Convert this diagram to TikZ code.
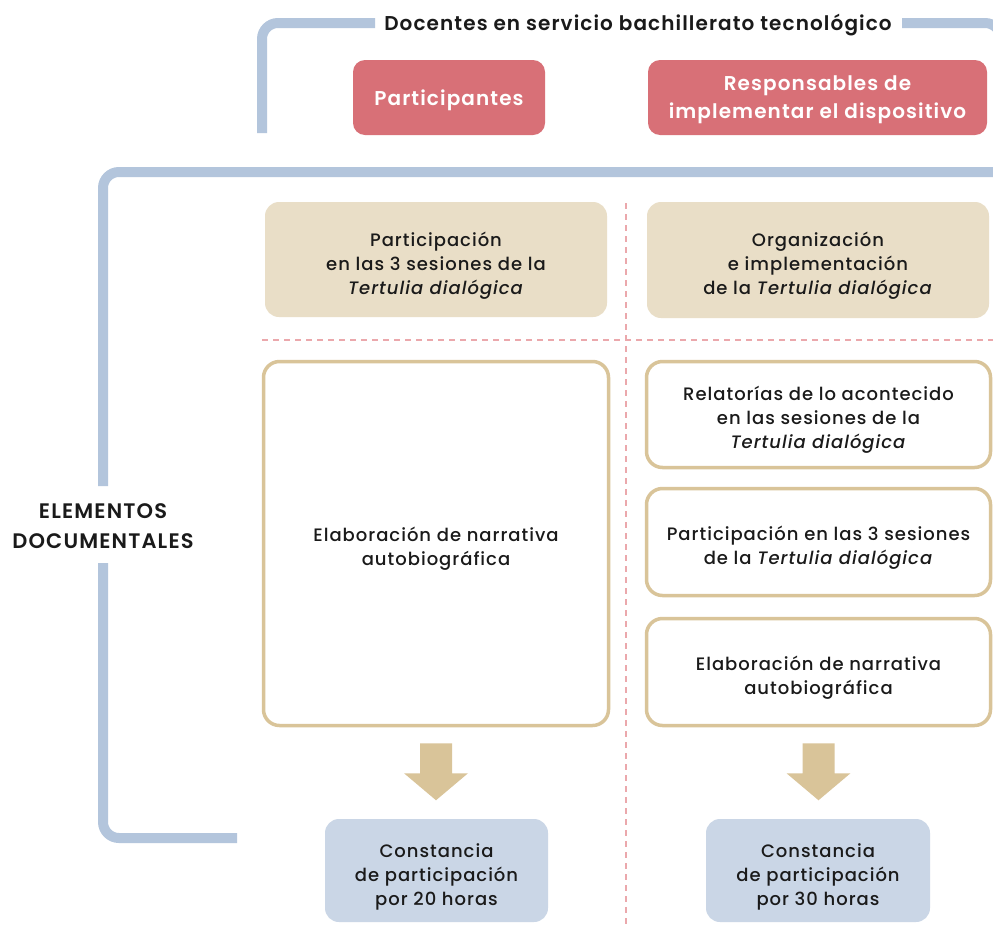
\documentclass[tikz,border=0pt]{standalone}
\usepackage{fontspec}
\setmainfont{Poppins}[LetterSpace=5.5, UprightFont={Poppins Medium}, ItalicFont={Poppins Medium Italic}, BoldFont={Poppins SemiBold}]
\usetikzlibrary{calc}
\definecolor{redc}{HTML}{D87077}
\definecolor{beigec}{HTML}{E9DEC7}
\definecolor{tanc}{HTML}{D9C499}
\definecolor{bluec}{HTML}{CAD6E6}
\definecolor{brkc}{HTML}{B3C5DC}
\definecolor{pinkc}{HTML}{EBA8AC}
\definecolor{txtc}{HTML}{1A1A1A}
\tikzset{
  brk/.style={draw=brkc, line width=10pt, rounded corners=16pt, line cap=butt},
  sep/.style={draw=pinkc, line width=1.5pt, dash pattern=on 6pt off 5pt},
  redbox/.style={fill=redc, rounded corners=12pt, inner sep=0pt},
  beigebox/.style={fill=beigec, rounded corners=14pt, inner sep=0pt},
  docbox/.style={draw=tanc, fill=white, line width=3.5pt, rounded corners=16pt, inner sep=0pt},
  certbox/.style={fill=bluec, rounded corners=14pt, inner sep=0pt},
  bodytxt/.style={text=txtc, align=center, inner sep=0pt, font=\fontsize{18}{24}\selectfont},
  redtxt/.style={text=white, align=center, inner sep=0pt, font=\fontsize{20}{28}\selectfont\bfseries},
  lbl/.style={text=txtc, align=center, inner sep=0pt, font=\fontsize{21}{30}\selectfont\bfseries},
  blockarrow/.style={fill=tanc},
}
\begin{document}
\begin{tikzpicture}[x=1pt,y=-1pt]
\useasboundingbox (0,0) rectangle (993,924);
\clip (0,0) rectangle (993,924);
\fill[white] (0,0) rectangle (993,924);

% brackets
\draw[brk] (262,133) -- (262,23) -- (375,23);
\draw[brk] (902,23) -- (1001,23) -- (1001,140);
\draw[brk] (1010,172) -- (103,172) -- (103,486);
\draw[brk] (103,563) -- (103,838) -- (237,838);

% separators
\draw[sep] (626,203) -- (626,924);
\draw[sep] (262,340) -- (993,340);

% title and side label
\node[lbl, font=\fontsize{20}{24}\selectfont\bfseries] (title) at (638,25.5) {Docentes en servicio bachillerato tecnológico};
\node[lbl] (elem) at (103,526) {ELEMENTOS\\DOCUMENTALES};

% header boxes
\node[redbox, minimum width=192pt, minimum height=75pt] (part) at (449,97.5) {};
\node[redtxt] (partt) at ([yshift=-2.5pt]part.center) {Participantes};
\node[redbox, minimum width=339pt, minimum height=75pt] (resp) at (817.5,97.5) {};
\node[redtxt] (respt) at ([yshift=-2.5pt]resp.center) {Responsables de\\implementar el dispositivo};

% beige boxes
\node[beigebox, minimum width=342pt, minimum height=115pt] (b1) at (436,259.5) {};
\node[bodytxt] (b1t) at ([yshift=-6pt]b1.center) {Participación\\en las 3 sesiones de la\\\textit{Tertulia dialógica}};
\node[beigebox, minimum width=342pt, minimum height=116pt] (b2) at (818,260) {};
\node[bodytxt] (b2t) at ([yshift=-6pt]b2.center) {Organización\\e implementación\\de la \textit{Tertulia dialógica}};

% document boxes
\node[docbox, minimum width=345pt, minimum height=364pt] (big) at (436,543.5) {};
\node[bodytxt] (bigt) at ([yshift=-5.5pt]big.center) {Elaboración de narrativa\\autobiográfica};
\node[docbox, minimum width=344pt, minimum height=106pt] (r1) at (818.5,414.5) {};
\node[bodytxt] (r1t) at ([yshift=-5.5pt]r1.center) {Relatorías de lo acontecido\\en las sesiones de la\\\textit{Tertulia dialógica}};
\node[docbox, minimum width=344pt, minimum height=107pt] (r2) at (818.5,542) {};
\node[bodytxt] (r2t) at ([yshift=-5.5pt]r2.center) {Participación en las 3 sesiones\\de la \textit{Tertulia dialógica}};
\node[docbox, minimum width=344pt, minimum height=107pt] (r3) at (818.5,672) {};
\node[bodytxt] (r3t) at ([yshift=-5.5pt]r3.center) {Elaboración de narrativa\\autobiográfica};

% certificates
\node[certbox, minimum width=223pt, minimum height=103pt] (c1) at (436.5,870.5) {};
\node[bodytxt] (c1t) at ([yshift=-6pt]c1.center) {Constancia\\de participación\\por 20 horas};
\node[certbox, minimum width=224pt, minimum height=103pt] (c2) at (818,870.5) {};
\node[bodytxt] (c2t) at ([yshift=-6pt]c2.center) {Constancia\\de participación\\por 30 horas};

% block arrows
\foreach \a in {big,r3}{
  \fill[blockarrow] ($(\a.south)+(-16,16)$) -- ($(\a.south)+(16,16)$) -- ($(\a.south)+(16,46)$)
    -- ($(\a.south)+(32,46)$) -- ($(\a.south)+(0,73)$) -- ($(\a.south)+(-32,46)$)
    -- ($(\a.south)+(-16,46)$) -- cycle;
}
\end{tikzpicture}
\end{document}
